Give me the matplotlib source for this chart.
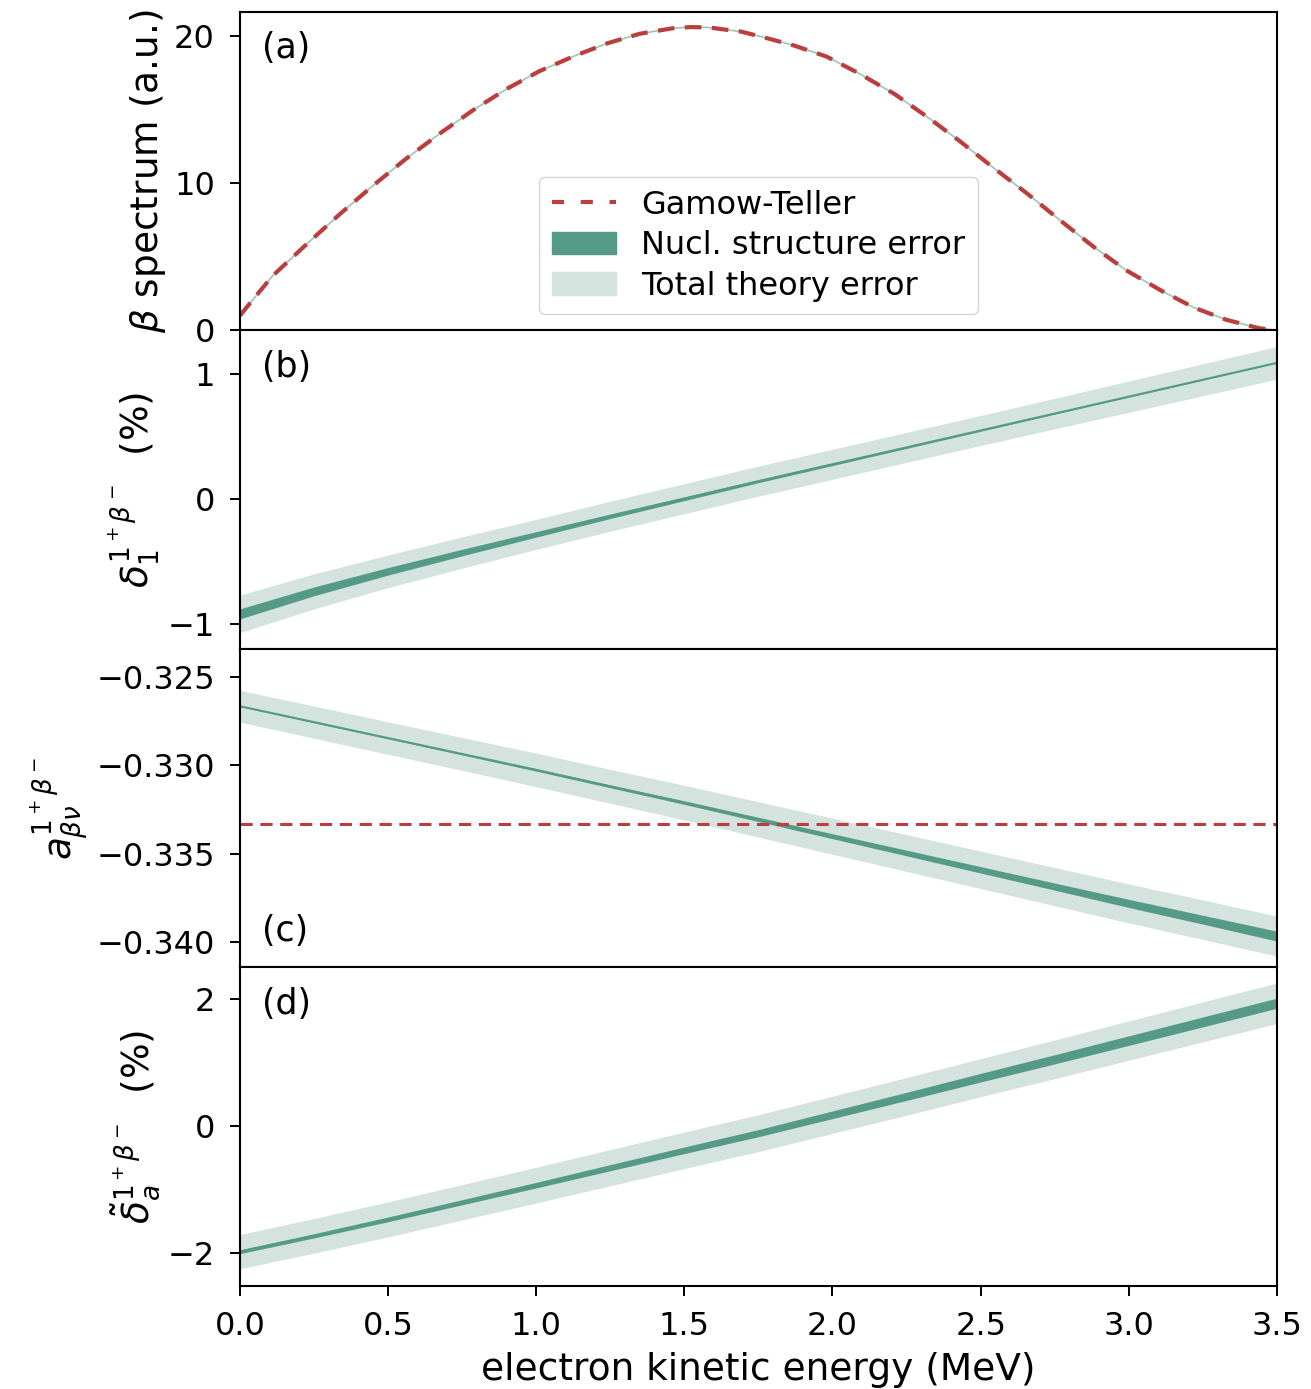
import matplotlib
matplotlib.use("Agg")
import matplotlib.pyplot as plt
from matplotlib.lines import Line2D
from matplotlib.patches import Patch
import numpy as np

# panel (a): beta spectrum
E_spec = [0.0, 0.04, 0.11, 0.23, 0.34, 0.45, 0.56, 0.68, 0.79, 0.90, 1.01,
          1.13, 1.24, 1.35, 1.46, 1.52, 1.58, 1.69, 1.76, 1.87, 1.98, 2.09, 2.21,
          2.32, 2.43, 2.54, 2.66, 2.77, 2.88, 2.99, 3.11, 3.22, 3.33, 3.44, 3.5]
spec_gt = [1.0, 2.0, 3.7, 5.95, 7.95, 9.85, 11.65, 13.45, 15.0, 16.4, 17.6,
           18.65, 19.5, 20.15, 20.52, 20.6, 20.58, 20.3, 19.95, 19.35, 18.6, 17.45, 16.05,
           14.5, 12.85, 11.1, 9.25, 7.45, 5.7, 4.1, 2.7, 1.55, 0.72, 0.15, 0.0]

# panels (b)-(d): common energy grid
E = [0.0, 0.25, 0.5, 0.75, 1.0, 1.25, 1.5, 1.75, 2.0, 2.25, 2.5, 2.75, 3.0, 3.25, 3.5]

d1_mid = [-0.92, -0.74, -0.58, -0.43, -0.285, -0.14, 0.0, 0.14, 0.275, 0.41,
          0.545, 0.68, 0.815, 0.95, 1.085]
d1_tot = [0.15, 0.14, 0.13, 0.125, 0.12, 0.12, 0.12, 0.12, 0.12, 0.12,
          0.12, 0.122, 0.125, 0.128, 0.13]
d1_nuc = [0.04, 0.035, 0.03, 0.026, 0.022, 0.018, 0.015, 0.012, 0.01, 0.008,
          0.006, 0.004, 0.003, 0.002, 0.001]

a_mid = [-0.32665, -0.32755, -0.32845, -0.32935, -0.33025, -0.33118, -0.33210,
         -0.33305, -0.33400, -0.33495, -0.33590, -0.33685, -0.33780, -0.33872, -0.33965]
a_tot = [0.0009, 0.00091, 0.00092, 0.00093, 0.00095, 0.00096, 0.00098, 0.001,
         0.00102, 0.00104, 0.00106, 0.00108, 0.0011, 0.00112, 0.00113]
a_nuc = [0.00002, 0.00003, 0.00004, 0.00005, 0.00007, 0.00008, 0.0001, 0.00012,
         0.00014, 0.00016, 0.00018, 0.0002, 0.00023, 0.00025, 0.00028]
a_gt = -1.0 / 3.0

da_mid = [-1.98, -1.73, -1.47, -1.20, -0.93, -0.655, -0.38, -0.11, 0.18, 0.47,
          0.765, 1.055, 1.35, 1.645, 1.94]
da_tot = [0.27, 0.273, 0.276, 0.279, 0.282, 0.285, 0.288, 0.291, 0.294, 0.297,
          0.30, 0.305, 0.31, 0.315, 0.32]
da_nuc = [0.03, 0.033, 0.037, 0.04, 0.044, 0.048, 0.052, 0.056, 0.06, 0.064,
          0.068, 0.072, 0.075, 0.078, 0.08]

xticks = [0.0, 0.5, 1.0, 1.5, 2.0, 2.5, 3.0, 3.5]

dark = "#559a86"
light = "#d4e3de"
red = "#bb3d3d"

fig, axes = plt.subplots(4, 1, figsize=(13.11, 13.89), dpi=100, sharex=True)
fig.subplots_adjust(left=0.183, right=0.974, top=0.9914, bottom=0.0742, hspace=0)

E = np.array(E)


def band(ax, mid, tot, nuc):
    mid = np.array(mid)
    tot = np.array(tot)
    nuc = np.array(nuc)
    ax.fill_between(E, mid - tot, mid + tot, color=light, lw=0)
    ax.fill_between(E, mid - nuc, mid + nuc, color=dark, lw=0)
    ax.plot(E, mid, color=dark, lw=1.5)


# (a)
ax = axes[0]
ax.plot(E_spec, spec_gt, color="#9cc5b8", lw=1.2)
ax.plot(E_spec, spec_gt, color=red, lw=3, ls=(0, (4, 2.5)))
ax.set_ylim(0, 21.63)
ax.set_yticks([0, 10, 20])
ax.set_ylabel(r"$\beta$ spectrum (a.u.)")
handles = [Line2D([], [], color=red, lw=3, ls=(0, (2.9, 4))),
           Patch(color=dark), Patch(color=light)]
ax.legend(handles, ["Gamow-Teller", "Nucl. structure error", "Total theory error"],
          loc="lower center", fontsize=23, handlelength=2.0, labelspacing=0.3)
ax.text(0.021, 0.94, "(a)", transform=ax.transAxes, fontsize=25, va="top")

# (b)
ax = axes[1]
band(ax, d1_mid, d1_tot, d1_nuc)
ax.set_ylim(-1.2, 1.344)
ax.set_yticks([-1, 0, 1])
ax.set_ylabel(r"$\delta_1^{1^+\beta^-}$  (%)")
ax.text(0.021, 0.94, "(b)", transform=ax.transAxes, fontsize=25, va="top")

# (c)
ax = axes[2]
band(ax, a_mid, a_tot, a_nuc)
ax.axhline(a_gt, color=red, lw=2.2, ls=(0, (4, 2.5)))
ax.set_ylim(-0.34142, -0.32341)
ax.set_yticks([-0.325, -0.330, -0.335, -0.340])
ax.set_ylabel(r"$a_{\beta\nu}^{1^+\beta^-}$")
ax.text(0.021, 0.06, "(c)", transform=ax.transAxes, fontsize=25, va="bottom")

# (d)
ax = axes[3]
band(ax, da_mid, da_tot, da_nuc)
ax.set_ylim(-2.52, 2.504)
ax.set_yticks([-2, 0, 2])
ax.set_ylabel(r"$\tilde{\delta}_a^{1^+\beta^-}$  (%)")
ax.text(0.021, 0.94, "(d)", transform=ax.transAxes, fontsize=25, va="top")

for ax in axes:
    ax.set_xlim(0, 3.5)
    ax.yaxis.label.set_size(27)
    ax.tick_params(axis="both", labelsize=23, length=7, width=1.4, pad=11)
    for sp in ax.spines.values():
        sp.set_linewidth(1.5)
for ax in axes[:3]:
    ax.tick_params(axis="x", bottom=False)

axes[3].set_xticks(xticks)
axes[3].set_xlabel("electron kinetic energy (MeV)", fontsize=27, labelpad=7)

fig.savefig("out.png")
